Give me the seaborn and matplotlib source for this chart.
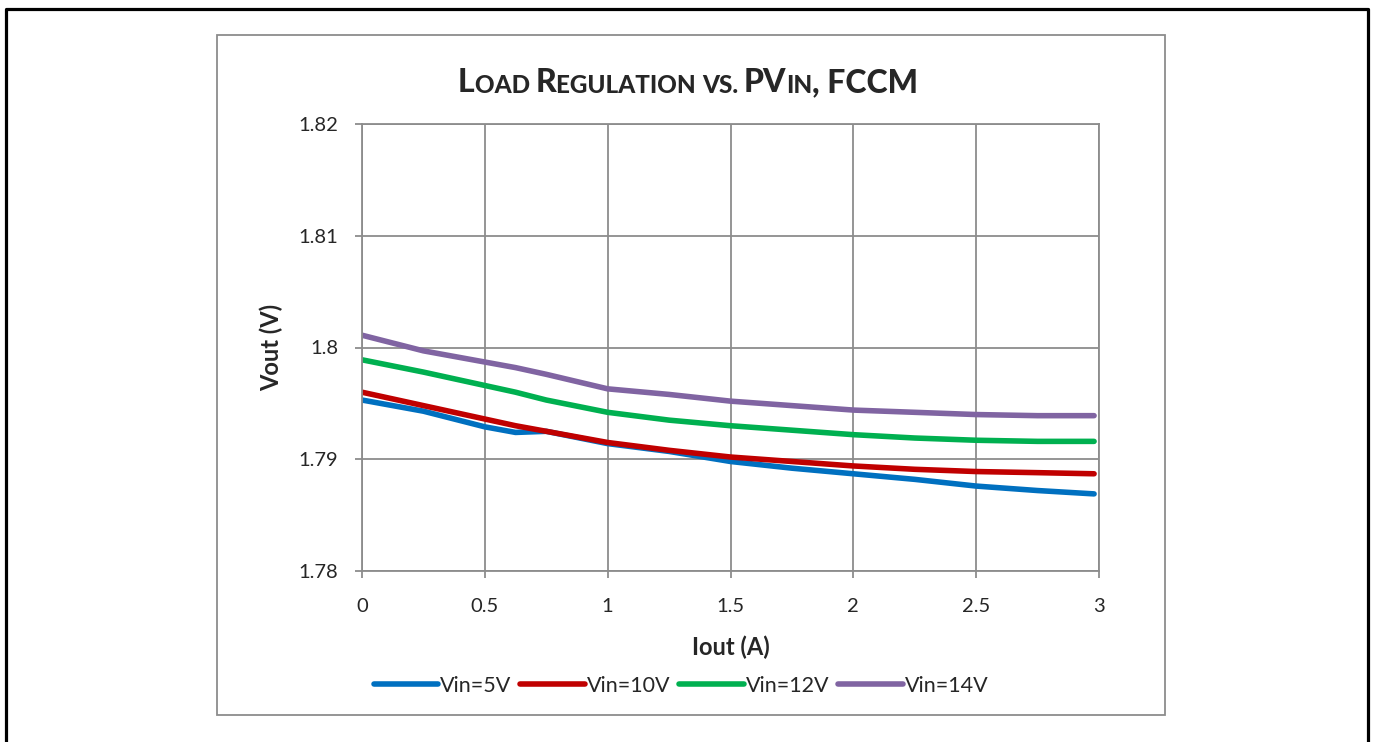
import numpy as np
import pandas as pd
import matplotlib.pyplot as plt
from matplotlib.lines import Line2D
from matplotlib.patches import Rectangle
from matplotlib.ticker import FuncFormatter
import seaborn as sns

# values
iout = [0, 0.25, 0.5, 0.625, 0.75, 1.0, 1.25, 1.5, 1.75, 2.0, 2.25, 2.5, 2.75, 2.98]
vin_5 = [1.7953, 1.7943, 1.7929, 1.7924, 1.7925, 1.7914, 1.7907, 1.7898, 1.7892,
         1.7887, 1.7882, 1.7876, 1.7872, 1.7869]
vin_10 = [1.7960, 1.7948, 1.7936, 1.7930, 1.7925, 1.7915, 1.7908, 1.7902, 1.7898,
          1.7894, 1.7891, 1.7889, 1.7888, 1.7887]
vin_12 = [1.7989, 1.7978, 1.7966, 1.7960, 1.7953, 1.7942, 1.7935, 1.7930, 1.7926,
          1.7922, 1.7919, 1.7917, 1.7916, 1.7916]
vin_14 = [1.8011, 1.7997, 1.7987, 1.7982, 1.7976, 1.7963, 1.7958, 1.7952, 1.7948,
          1.7944, 1.7942, 1.7940, 1.7939, 1.7939]
series_names = ['Vin=5V', 'Vin=10V', 'Vin=12V', 'Vin=14V']
colors = ['#0070C0', '#C00000', '#00B050', '#8064A2']

df = pd.DataFrame({'Iout': iout, 'Vin=5V': vin_5, 'Vin=10V': vin_10,
                   'Vin=12V': vin_12, 'Vin=14V': vin_14})
df = df.melt(id_vars='Iout', var_name='series', value_name='Vout')

sns.set_style('white')
plt.rcParams['font.family'] = ['Lato', 'DejaVu Sans']

fig = plt.figure(figsize=(13.75, 7.42), dpi=100)
W, H = 1375, 742
ax = fig.add_axes([362 / W, 1 - 571 / H, (1099 - 362) / W, (571 - 124) / H])

sns.lineplot(data=df, x='Iout', y='Vout', hue='series', hue_order=series_names,
             palette=colors, linewidth=4, ax=ax, legend=False,
             solid_capstyle='round', solid_joinstyle='round')

ax.set_xlim(0, 3)
ax.set_ylim(1.78, 1.82)
ax.set_xticks([0, 0.5, 1, 1.5, 2, 2.5, 3])
ax.set_yticks([1.78, 1.79, 1.80, 1.81, 1.82])
ax.xaxis.set_major_formatter(FuncFormatter(lambda v, p: '{:g}'.format(round(v, 2))))
ax.yaxis.set_major_formatter(FuncFormatter(lambda v, p: '{:g}'.format(round(v, 2))))
ax.tick_params(axis='both', which='major', direction='out', length=5, width=1.3,
               color='#8c8c8c', labelsize=14.5, left=True, bottom=True)
ax.tick_params(axis='x', pad=14.5)
ax.tick_params(axis='y', pad=12)
ax.grid(True, color='#8c8c8c', linewidth=1.3)
for s in ax.spines.values():
    s.set_color('#8c8c8c')
    s.set_linewidth(1.3)
ax.set_axisbelow(True)

ax.set_xlabel('Iout (A)', fontsize=17, fontweight='bold', labelpad=15)
ax.set_ylabel('Vout (V)', fontsize=17, fontweight='bold', labelpad=11)

# title in small caps, built from pieces chained one after another
big, small = 23, 17.5
pieces = [('L', big), ('OAD ', small), ('R', big), ('EGULATION ', small), ('VS. ', small),
          ('PV', big), ('IN', small), (', FCCM', big)]
prev = fig.text(458 / W, 1 - 92 / H, pieces[0][0], fontsize=pieces[0][1],
                fontweight='black', ha='left', va='baseline')
for txt, fs in pieces[1:]:
    prev = ax.annotate(txt, xy=(1, 0), xycoords=prev, xytext=(0, 0),
                       textcoords='offset points', fontsize=fs, fontweight='black',
                       ha='left', va='bottom', annotation_clip=False)

handles = [Line2D([0], [0], color=c, linewidth=4, solid_capstyle='round') for c in colors]
fig.legend(handles, series_names, loc='center', bbox_to_anchor=(681 / W, 1 - 686 / H),
           ncol=4, frameon=False, fontsize=15.5, handlelength=3.0, handletextpad=0.1,
           columnspacing=0.4)

# chart area border and outer page frame
fig.patches.append(Rectangle((217 / W, 1 - 715 / H), (1165 - 217) / W, (715 - 35) / H,
                             transform=fig.transFigure, fill=False,
                             edgecolor='#8c8c8c', linewidth=1.3))
fx0, fx1, fy1 = 6 / W, 1368 / W, 1 - 9 / H
fig.lines.append(Line2D([fx0, fx0, fx1, fx1], [0, fy1, fy1, 0],
                        transform=fig.transFigure, color='black', linewidth=2.3))

fig.savefig('out.png', dpi=100)
